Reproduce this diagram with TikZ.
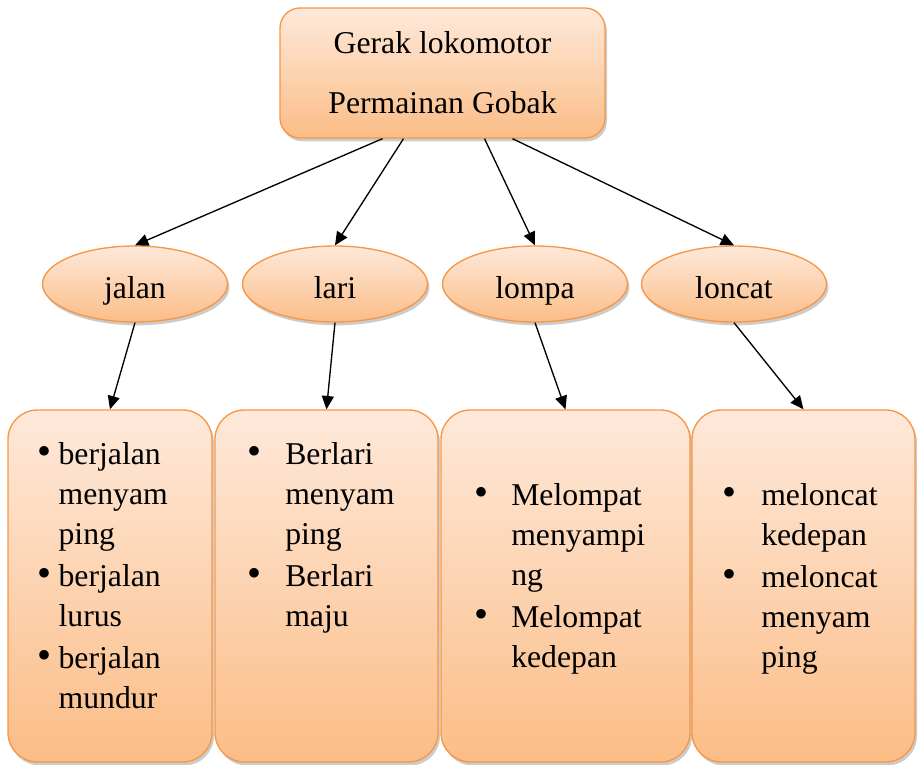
\documentclass[tikz,border=0pt]{standalone}
\usepackage{fontspec}
\setmainfont{Liberation Serif}
\usepackage{tikz}
\usetikzlibrary{arrows.meta,shapes,positioning,shadows,calc}

\definecolor{peachtop}{HTML}{FEE9DA}
\definecolor{peachbot}{HTML}{FBBD87}
\definecolor{peachedge}{HTML}{F79646}

\newcommand{\itm}[1]{\makebox[#1][l]{\fontsize{30}{30}\selectfont\textbullet}}

\begin{document}
\begin{tikzpicture}[
  x=0.75pt, y=-0.75pt,
  every node/.style={font=\fontsize{23.8}{30}\selectfont},
  shade/.style={draw=peachedge, line width=1pt, top color=peachtop, bottom color=peachbot,
    drop shadow={opacity=0.4, shadow xshift=1.5pt, shadow yshift=-2.5pt}},
  rootbox/.style={shade, rectangle, rounded corners=15pt, minimum width=243.75pt, minimum height=97.5pt, align=center},
  oval/.style={shade, ellipse, minimum width=138.75pt, minimum height=57pt, inner sep=0pt, text height=22pt, text depth=1pt},
  listbox/.style={shade, rectangle, rounded corners=22pt, minimum height=264pt},
  listtext/.style={anchor=base west, inner sep=0pt},
  arrow/.style={-{Triangle[length=10pt,width=9pt]}, line width=1pt}
]
  \useasboundingbox (0,0) rectangle (921,764);

  \node[rootbox] (root) at (442.5,73) {Gerak lokomotor\\[15pt]Permainan Gobak};

  \node[oval] (jalan) at (135,284) {jalan};
  \node[oval] (lari) at (335,284) {lari};
  \node[oval] (lompa) at (535,284) {lompa};
  \node[oval] (loncat) at (734,284) {loncat};

  \node[listbox, minimum width=153pt] (box1) at (110,586) {};
  \node[listbox, minimum width=167.25pt] (box2) at (326.5,586) {};
  \node[listbox, minimum width=186.75pt] (box3) at (565.5,586) {};
  \node[listbox, minimum width=167.25pt] (box4) at (803.5,586) {};

  % isi tiap kotak
  \node[listtext] (list1) at (37,464) {\begin{tabular}[t]{@{}l@{}l@{}}
    \itm{16pt} & berjalan\\ & menyam\\ & ping\\[1.5pt]
    \itm{16pt} & berjalan\\ & lurus\\[1.5pt]
    \itm{16pt} & berjalan\\ & mundur
  \end{tabular}};
  \node[listtext] (list2) at (247,464) {\begin{tabular}[t]{@{}l@{}l@{}}
    \itm{28.5pt} & Berlari\\ & menyam\\ & ping\\[1.5pt]
    \itm{28.5pt} & Berlari\\ & maju
  \end{tabular}};
  \node[listtext] (list3) at (474,505) {\begin{tabular}[t]{@{}l@{}l@{}}
    \itm{27.75pt} & Melompat\\ & menyampi\\ & ng\\[1.5pt]
    \itm{27.75pt} & Melompat\\ & kedepan
  \end{tabular}};
  \node[listtext] (list4) at (722,505) {\begin{tabular}[t]{@{}l@{}l@{}}
    \itm{29.25pt} & meloncat\\ & kedepan\\[1.5pt]
    \itm{29.25pt} & meloncat\\ & menyam\\ & ping
  \end{tabular}};

  \draw[arrow] ([xshift=-45pt]root.south) -- (jalan.north);
  \draw[arrow] ([xshift=-29.25pt]root.south) -- (lari.north);
  \draw[arrow] ([xshift=31.5pt]root.south) -- (lompa.north);
  \draw[arrow] ([xshift=52.5pt]root.south) -- (loncat.north);

  \draw[arrow] (jalan.south) -- (box1.north);
  \draw[arrow] (lari.south) -- (box2.north);
  \draw[arrow] (lompa.south) -- (box3.north);
  \draw[arrow] (loncat.south) -- (box4.north);
\end{tikzpicture}
\end{document}
